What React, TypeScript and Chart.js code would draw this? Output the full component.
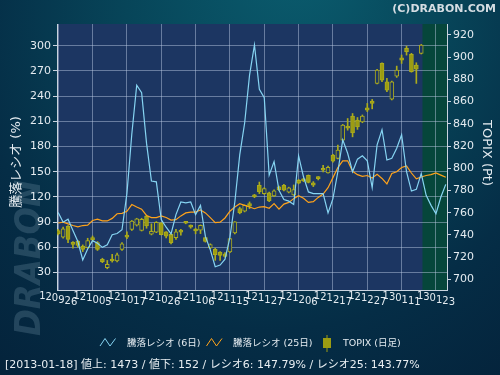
import React, { useEffect, useRef } from 'react';
import { Chart, registerables } from 'chart.js';

Chart.register(...registerables);

// ---- data ----
const X_LABELS = ['120926', '121005', '121017', '121026', '121106', '121115', '121127', '121206', '121217', '121227', '130111', '130123'];
const X_LABEL_INDEX = [0, 7, 14, 21, 28, 35, 42, 49, 56, 63, 70, 77];
const LEFT_TICKS = [30, 60, 90, 120, 150, 180, 210, 240, 270, 300];
const RIGHT_TICKS = [700, 720, 740, 760, 780, 800, 820, 840, 860, 880, 900, 920];

const RATIO6 = [101.5, 90, 93.5, 80, 67, 45, 58, 68, 65, 60,
  63, 75, 76.5, 81, 124, 195, 253, 244, 184, 139,
  138, 93, 84, 76, 99, 114, 113, 114, 99, 110,
  73, 57, 37, 39, 46, 72, 114, 170, 208, 265,
  301, 248, 238, 146, 162, 128, 117, 115, 111, 169,
  144, 126, 124, 124, 124, 101, 118, 150, 188, 172,
  150, 165, 169, 163, 131, 182, 200, 164, 166, 178,
  194, 150, 127, 129, 147.79, 122, 110, 100, 120, 135];

const RATIO25 = [89, 90, 88, 86, 84.5, 86, 86.5, 92, 93.5, 91.5,
  91.5, 94.5, 100, 100.5, 103, 111, 108, 105.5, 98, 95.5,
  95.5, 97.5, 95.5, 92.5, 93, 97.5, 101, 102, 102, 104.5,
  101, 95.5, 89.5, 90, 95, 103, 108, 112, 110, 108,
  106, 108, 108.5, 106.5, 112, 105.5, 111.5, 113.5, 118, 121.5,
  118.5, 113.5, 114.5, 119.5, 123.5, 131, 143, 155, 163, 163,
  150.5, 146.5, 144.5, 145.5, 142.5, 147, 142, 135.5, 148, 150,
  155, 157, 148.5, 141.5, 143.77, 145.5, 146.5, 148.5, 146, 143.5];

const OPEN = [744, 738, 748, 733, 734.5, 730, 728.5, 737.5, 733, 718,
  710.5, 718, 716.5, 727, 739, 745, 748.7, 744, 757, 740.6,
  742.4, 750.8, 742.7, 740.6, 737.5, 743.8, 751.5, 748.5, 745, 744.2,
  737.5, 728.2, 727, 724.6, 723, 724.6, 741.8, 763.7, 761.3, 768.2,
  775.7, 784.7, 777.2, 777.8, 775.1, 783.2, 784.7, 778.4, 776, 789.2,
  790.1, 793.7, 787, 791.8, 799.7, 795.8, 811.8, 808.8, 825.3, 837.9,
  846.9, 843.3, 841.8, 854.5, 860.5, 876.4, 894.4, 877.9, 862.3, 883,
  899.5, 907.9, 902.5, 892.9, 903.4];
const CLOSE = [741, 745.5, 736, 731.5, 730.5, 727, 735, 735.5, 727, 716,
  713.5, 716.5, 722, 732, 738, 752.5, 754.4, 754, 748, 743.3,
  751.4, 740.3, 738.8, 733, 742.7, 742.5, 750.5, 747, 743.5, 748.7,
  734.2, 731.2, 722.2, 721.6, 720.7, 736.6, 751.7, 759.8, 766.7, 765.8,
  774.2, 778.7, 781.7, 770.6, 779.6, 780.8, 780.2, 782.3, 780.8, 786.5,
  788.6, 787.2, 784.7, 790.7, 798.2, 800.8, 806.3, 816.3, 838.8, 836.1,
  831.9, 837.3, 846.9, 852.3, 858.4, 888.4, 879.4, 870.4, 877.9, 888.4,
  897.4, 904.9, 886.9, 889.3, 911];
const HIGH = [745, 747, 748.5, 734, 735, 731, 737, 739, 734, 719,
  717, 722.5, 723.7, 733, 742.7, 753, 755, 755, 757.5, 750,
  752, 751, 743, 741, 745, 745, 752, 749, 746, 749,
  738, 732, 728, 725, 724, 737, 752, 765, 767, 769.7,
  776.5, 787.6, 782.5, 778.5, 780.5, 784, 785.5, 783, 785, 790,
  791, 794, 788, 792.5, 802.7, 802, 812.5, 820.8, 839.5, 844.8,
  849.3, 845.7, 848, 858.4, 862, 889, 895, 880.9, 878.5, 892,
  902, 910, 903.5, 895, 911.5];
const LOW = [740, 737, 733, 728, 729, 725, 728, 734, 726, 715,
  709.5, 715.5, 715.6, 726, 736.6, 744, 748, 743.5, 746, 740,
  742, 740, 737.3, 732, 736, 739.7, 750, 746, 741, 741.2,
  733.5, 727.5, 717.1, 717, 720, 724, 741, 759, 760.7, 763.7,
  773.5, 777.2, 776.5, 770, 774.5, 780, 779.5, 777.8, 775.5, 786,
  788, 786.8, 783.5, 789.5, 796.7, 795.5, 805.5, 808.5, 824.5, 834.3,
  828.3, 835, 841, 851, 853.5, 876, 877.9, 869, 861.5, 881.8,
  894.4, 901.9, 886.5, 876.4, 902.9];

const HIGHLIGHT_FROM = 74.25;
const TITLE_LEFT = '騰落レシオ (%)';
const TITLE_RIGHT = 'TOPIX (Pt)';
const LEGEND_6 = '騰落レシオ (6日)';
const LEGEND_25 = '騰落レシオ (25日)';
const LEGEND_TOPIX = 'TOPIX (日足)';
const INFO_TEXT = '[2013-01-18] 値上: 1473 / 値下: 152 / レシオ6: 147.79% / レシオ25: 143.77%';
const COPYRIGHT = '(C)DRABON.COM';

// ---- styles ----
const FONT = '"DejaVu Sans", "Noto Sans CJK JP", sans-serif';
const BLUE = '#86d4f2';
const ORANGE = '#ffa31a';
const OLIVE = '#9c9c12';
const OLIVE_EDGE = '#acac1c';
const NAVY = '#1c3662';
const GRID = 'rgba(185,200,225,0.48)';
const TEXT = '#e4ebf0';
const AXIS_LINE = '#c9d3de';

const decoPlugin = {
  id: 'deco',
  beforeDraw(chart: any) {
    const { ctx, chartArea: ca, width, height } = chart;
    ctx.save();
    const g = ctx.createRadialGradient(300, -40, 20, 260, 60, 420);
    g.addColorStop(0, '#0a5a6c');
    g.addColorStop(0.35, '#074559');
    g.addColorStop(0.7, '#052d46');
    g.addColorStop(1, '#04223a');
    ctx.fillStyle = g;
    ctx.fillRect(0, 0, width, height);

    // watermark
    ctx.save();
    ctx.translate(31, 258);
    ctx.rotate(-Math.PI / 2);
    ctx.font = 'italic bold 36px "DejaVu Sans Condensed", "DejaVu Sans"';
    ctx.fillStyle = 'rgba(95,130,150,0.35)';
    ctx.textAlign = 'center';
    ctx.textBaseline = 'middle';
    ctx.fillText('DRABON', 0, 0);
    ctx.restore();

    // plot background
    ctx.fillStyle = NAVY;
    ctx.fillRect(ca.left, ca.top, ca.right - ca.left, ca.bottom - ca.top);
    const hx = chart.scales.x.getPixelForValue(HIGHLIGHT_FROM);
    ctx.fillStyle = '#06463b';
    ctx.fillRect(hx, ca.top, ca.right - hx, ca.bottom - ca.top);
    ctx.restore();
  },
  afterDraw(chart: any) {
    const { ctx, chartArea: ca } = chart;
    const xs = chart.scales.x;
    ctx.save();
    ctx.fillStyle = TEXT;

    // x labels, characters stepping down along the label
    ctx.font = '10px ' + FONT;
    ctx.textBaseline = 'alphabetic';
    ctx.textAlign = 'left';
    X_LABEL_INDEX.forEach((v, k) => {
      const label = X_LABELS[k];
      const cx = xs.getPixelForValue(v);
      let x = cx - ctx.measureText(label).width / 2;
      for (let j = 0; j < label.length; j++) {
        const ch = label[j];
        ctx.fillText(ch, x, ca.bottom + 8.5 + j * 1.35);
        x += ctx.measureText(ch).width;
      }
    });

    // axis titles
    ctx.font = '13px ' + FONT;
    ctx.textAlign = 'center';
    ctx.textBaseline = 'middle';
    ctx.save();
    ctx.translate(17, 162);
    ctx.rotate(-Math.PI / 2);
    ctx.fillText(TITLE_LEFT, 0, 0);
    ctx.restore();
    ctx.save();
    ctx.translate(486, 153);
    ctx.rotate(Math.PI / 2);
    ctx.fillText(TITLE_RIGHT, 0, 0);
    ctx.restore();

    // copyright
    ctx.font = 'bold 11px ' + FONT;
    ctx.textAlign = 'right';
    ctx.textBaseline = 'alphabetic';
    ctx.fillStyle = '#d5dde3';
    ctx.fillText(COPYRIGHT, 496, 12);

    // legend
    ctx.lineWidth = 1;
    const zig = (x0: number, color: string) => {
      ctx.strokeStyle = color;
      ctx.beginPath();
      ctx.moveTo(x0, 346);
      ctx.lineTo(x0 + 5, 338.5);
      ctx.lineTo(x0 + 10, 346);
      ctx.lineTo(x0 + 15.5, 338.5);
      ctx.stroke();
    };
    zig(100, BLUE);
    zig(206.5, ORANGE);
    ctx.fillStyle = OLIVE;
    ctx.fillRect(326.5, 335, 1, 17);
    ctx.fillRect(323, 338, 8, 10);
    ctx.fillStyle = TEXT;
    ctx.font = '9.5px ' + FONT;
    ctx.textAlign = 'left';
    ctx.textBaseline = 'middle';
    ctx.fillText(LEGEND_6, 127, 344);
    ctx.fillText(LEGEND_25, 233, 344);
    ctx.fillText(LEGEND_TOPIX, 343, 344);

    // info line
    ctx.font = '11px ' + FONT;
    ctx.fillStyle = '#e8eef2';
    ctx.fillText(INFO_TEXT, 5, 365);
    ctx.restore();
  },
};

export default function App() {
  const ref = useRef<HTMLCanvasElement>(null);
  useEffect(() => {
    const canvas = ref.current;
    if (!canvas) return;
    const idx = CLOSE.map((_, i) => i);
    const chart = new Chart(canvas, {
      type: 'line',
      data: {
        datasets: [
          {
            type: 'line',
            label: LEGEND_6,
            data: RATIO6.map((y, i) => ({ x: i, y })),
            borderColor: BLUE,
            borderWidth: 1.2,
            pointRadius: 0,
            tension: 0,
            yAxisID: 'yL',
          },
          {
            type: 'line',
            label: LEGEND_25,
            data: RATIO25.map((y, i) => ({ x: i, y })),
            borderColor: ORANGE,
            borderWidth: 1.2,
            pointRadius: 0,
            tension: 0,
            yAxisID: 'yL',
          },
          {
            type: 'bar',
            label: 'body',
            data: idx.map((i) => ({ x: i, y: [Math.min(OPEN[i], CLOSE[i]), Math.max(OPEN[i], CLOSE[i])] })) as any,
            backgroundColor: idx.map((i) => (CLOSE[i] < OPEN[i] ? OLIVE : NAVY)),
            borderColor: OLIVE_EDGE,
            borderWidth: 1,
            borderSkipped: false,
            barThickness: 4,
            minBarLength: 2,
            grouped: false,
            yAxisID: 'yR',
          } as any,
          {
            type: 'bar',
            label: 'wick',
            data: idx.map((i) => ({ x: i, y: [LOW[i], HIGH[i]] })) as any,
            backgroundColor: OLIVE_EDGE,
            borderWidth: 0,
            barThickness: 1,
            grouped: false,
            yAxisID: 'yR',
          } as any,
        ],
      },
      options: {
        animation: false,
        responsive: false,
        devicePixelRatio: 1,
        events: [],
        layout: { padding: { top: 24, left: 0, right: 0, bottom: 0 } },
        plugins: { legend: { display: false }, tooltip: { enabled: false } },
        scales: {
          x: {
            type: 'linear',
            min: -0.25,
            max: 79.25,
            offset: false,
            afterBuildTicks: (s: any) => { s.ticks = X_LABEL_INDEX.map((v) => ({ value: v })); },
            afterFit: (s: any) => { s.height = 85; },
            ticks: { display: false },
            grid: { color: GRID, drawTicks: false, offset: false },
            border: { display: true, color: AXIS_LINE },
          },
          yL: {
            type: 'linear',
            position: 'left',
            min: 9.3,
            max: 325.8,
            afterBuildTicks: (s: any) => { s.ticks = LEFT_TICKS.map((v) => ({ value: v })); },
            afterFit: (s: any) => { s.width = 57; },
            ticks: { color: TEXT, font: { family: FONT, size: 11 }, padding: 2 },
            grid: { color: GRID, tickLength: 4, tickColor: AXIS_LINE },
            border: { display: true, color: AXIS_LINE },
          },
          yR: {
            type: 'linear',
            position: 'right',
            min: 690.4,
            max: 929.9,
            afterBuildTicks: (s: any) => { s.ticks = RIGHT_TICKS.map((v) => ({ value: v })); },
            afterFit: (s: any) => { s.width = 53; },
            ticks: { color: TEXT, font: { family: FONT, size: 11 }, padding: 2 },
            grid: { drawOnChartArea: false, tickLength: 4, tickColor: AXIS_LINE },
            border: { display: true, color: AXIS_LINE },
          },
        },
      } as any,
      plugins: [decoPlugin],
    });
    return () => chart.destroy();
  }, []);
  return (
    <div style={{ position: 'fixed', left: 0, top: 0, width: 500, height: 375 }}>
      <canvas ref={ref} width={500} height={375} style={{ display: 'block', width: 500, height: 375 }} />
    </div>
  );
}
